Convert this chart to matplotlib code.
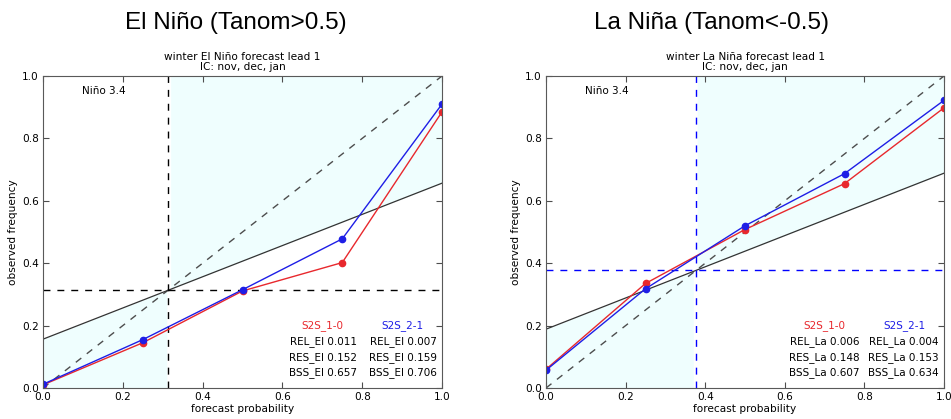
import matplotlib
matplotlib.use('Agg')
import matplotlib.pyplot as plt
import numpy as np

# forecast probability bins
prob = [0.0, 0.25, 0.5, 0.75, 1.0]

# El Nino (Tanom>0.5)
el_clim = 0.313
el_obs_10 = [0.010, 0.145, 0.311, 0.402, 0.885]
el_obs_21 = [0.012, 0.155, 0.315, 0.478, 0.910]
el_stats_10 = ['REL_El 0.011', 'RES_El 0.152', 'BSS_El 0.657']
el_stats_21 = ['REL_El 0.007', 'RES_El 0.159', 'BSS_El 0.706']

# La Nina (Tanom<-0.5)
la_clim = 0.377
la_obs_10 = [0.060, 0.335, 0.508, 0.655, 0.898]
la_obs_21 = [0.057, 0.318, 0.520, 0.687, 0.922]
la_stats_10 = ['REL_La 0.006', 'RES_La 0.148', 'BSS_La 0.607']
la_stats_21 = ['REL_La 0.004', 'RES_La 0.153', 'BSS_La 0.634']

panels = [
    ('El Niño (Tanom>0.5)', 'winter El Niño forecast lead 1', el_clim,
     el_obs_10, el_obs_21, el_stats_10, el_stats_21, 'black'),
    ('La Niña (Tanom<-0.5)', 'winter La Niña forecast lead 1', la_clim,
     la_obs_10, la_obs_21, la_stats_10, la_stats_21, 'blue'),
]

fig = plt.figure(figsize=(9.51, 4.19), dpi=100)
axpos = [[43/951, 1-388/419, 399/951, 312/419],
         [546/951, 1-388/419, 398/951, 312/419]]
title_x = [236/951, 711/951]

for i, (big, sub, clim, o10, o21, s10, s21, ccol) in enumerate(panels):
    ax = fig.add_axes(axpos[i])
    xx = np.linspace(0, 1, 101)
    noskill = (xx + clim) / 2.

    # region where points add to skill
    ax.fill_between(xx, 0, noskill, where=xx <= clim, color='#effefe', lw=0)
    ax.fill_between(xx, noskill, 1, where=xx >= clim, color='#effefe', lw=0)

    ax.plot([0, 1], [0, 1], '--', color='0.3', lw=1, dashes=(5, 5))
    ax.plot(xx, noskill, '-', color='0.2', lw=0.9)
    ax.axvline(clim, ls='--', color=ccol, lw=1, dashes=(5, 5))
    ax.axhline(clim, ls='--', color=ccol, lw=1, dashes=(5, 5))

    ax.plot(prob, o10, '-o', color='#e8282d', lw=1, ms=4.5, mec='#e8282d')
    ax.plot(prob, o21, '-o', color='#1e1ee6', lw=1, ms=4.5, mec='#1e1ee6')

    ax.set_xlim(0, 1)
    ax.set_ylim(0, 1)
    ax.set_xticks(np.arange(0, 1.01, 0.2))
    ax.set_yticks(np.arange(0, 1.01, 0.2))
    ax.tick_params(direction='in', top=True, right=True, length=4,
                   labelsize=7.6, color='0.3')
    ax.tick_params(axis='x', pad=3)
    ax.tick_params(axis='y', pad=3)
    for sp in ax.spines.values():
        sp.set_color('0.35')
    ax.set_xlabel('forecast probability', fontsize=7.6, labelpad=1)
    ax.set_ylabel('observed frequency', fontsize=7.6, labelpad=3)
    ax.set_title(sub + '\nIC: nov, dec, jan', fontsize=7.6, pad=4,
                 linespacing=1.05)
    ax.text(0.098, 0.952, 'Niño 3.4', fontsize=7.5, transform=ax.transAxes,
            va='center')

    ax.text(0.70, 0.2, 'S2S_1-0', color='#e8282d', fontsize=7.5,
            ha='center', va='center', transform=ax.transAxes)
    ax.text(0.90, 0.2, 'S2S_2-1', color='#1e1ee6', fontsize=7.5,
            ha='center', va='center', transform=ax.transAxes)
    for j in range(3):
        yy = 0.148 - j*0.05
        ax.text(0.787, yy, s10[j], fontsize=7.5, ha='right', va='center',
                transform=ax.transAxes)
        ax.text(0.987, yy, s21[j], fontsize=7.5, ha='right', va='center',
                transform=ax.transAxes)

    fig.text(title_x[i], 1-23/419, big, fontsize=17.5, ha='center',
             va='center', family='Liberation Sans')

fig.savefig('out.png', dpi=100)
